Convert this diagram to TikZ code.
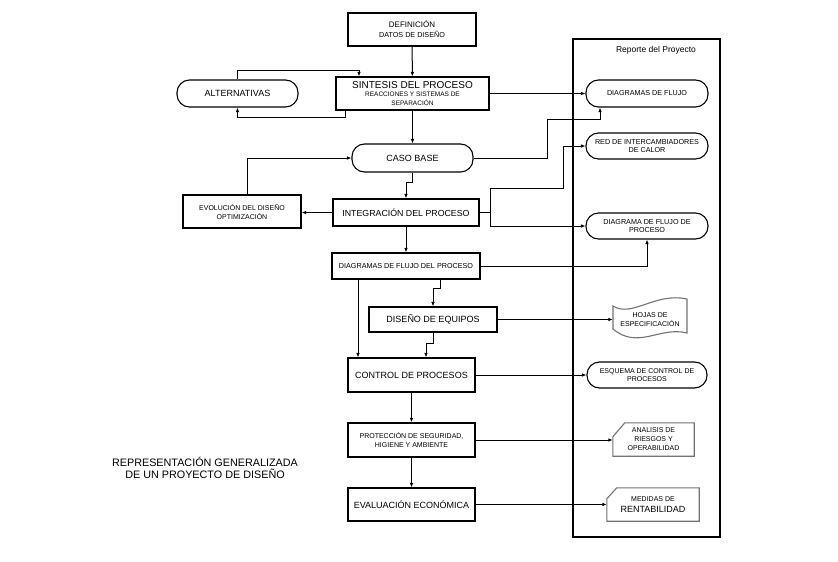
\documentclass[tikz,border=0pt]{standalone}
\usepackage{fontspec}
\setmainfont{Liberation Sans}
\usetikzlibrary{arrows.meta,calc}
\newcommand{\fsz}[2]{\fontsize{#1}{#2}\selectfont}
\begin{document}
\begin{tikzpicture}[x=1pt,y=-1pt,
  conn/.style={line width=1pt,-{Latex[length=4.5pt,width=3.6pt]}},
  box/.style={draw,line width=1.2pt,align=center,inner sep=1pt},
  pill/.style={draw,line width=1.1pt,rounded corners=12.5pt,align=center,inner sep=1pt},
  txt/.style={align=center,inner sep=0pt},
  outl/.style={draw=black!55,line width=1.1pt}]
\useasboundingbox[fill=white] (0,0) rectangle (838,562);

% main column
\node[box,minimum width=128pt,minimum height=33pt,font=\fsz{7.2}{10}] (def) at (412,29.5)
  {{\fsz{8}{10}DEFINICIÓN}\\ DATOS DE DISEÑO};
\node[box,minimum width=153pt,minimum height=33pt,font=\fsz{6.5}{8.5}] (sint) at (412.5,93.5)
  {{\fsz{10}{10}SINTESIS DEL PROCESO}\\ REACCIONES Y SISTEMAS DE\\ SEPARACIÓN};
\node[pill,minimum width=121pt,minimum height=27pt,font=\fsz{9}{10}] (alt) at (237.5,93.5)
  {ALTERNATIVAS};
\node[pill,minimum width=121pt,minimum height=28pt,font=\fsz{9}{10}] (caso) at (412.5,158)
  {CASO BASE};
\node[box,minimum width=118pt,minimum height=33pt,font=\fsz{7}{9}] (evol) at (242,211.5)
  {EVOLUCIÓN DEL DISEÑO\\ OPTIMIZACIÓN};
\node[box,minimum width=146pt,minimum height=27pt,font=\fsz{8.8}{10}] (integ) at (406,212.5)
  {INTEGRACIÓN DEL PROCESO};
\node[box,minimum width=148pt,minimum height=26pt,font=\fsz{7.2}{9}] (dfp) at (406,266)
  {DIAGRAMAS DE FLUJO DEL PROCESO};
\node[box,minimum width=128pt,minimum height=25pt,font=\fsz{9}{10}] (dise) at (433,319.5)
  {DISEÑO DE EQUIPOS};
\node[box,minimum width=127pt,minimum height=34pt,font=\fsz{9}{10}] (ctrl) at (411.5,375)
  {CONTROL DE PROCESOS};
\node[box,minimum width=127pt,minimum height=34pt,font=\fsz{7}{9}] (prot) at (411.5,440)
  {PROTECCIÓN DE SEGURIDAD,\\ HIGIENE Y AMBIENTE};
\node[box,minimum width=127pt,minimum height=33pt,font=\fsz{9}{10}] (eval) at (411.5,504.5)
  {EVALUACIÓN ECONÓMICA};

% title
\node[txt,font=\fsz{10.8}{12}] (title) at (205,467.5)
  {REPRESENTACIÓN GENERALIZADA\\ DE UN PROYECTO DE DISEÑO};

% report frame
\node[draw,line width=1.1pt,minimum width=147pt,minimum height=498pt,inner sep=0pt] (frame) at (646.5,288) {};
\node[txt,font=\fsz{8.5}{10}] (rep) at (656,50) {Reporte del Proyecto};

\node[pill,minimum width=122pt,minimum height=27pt,font=\fsz{7.2}{9}] (r1) at (647,93.5)
  {DIAGRAMAS DE FLUJO};
\node[pill,minimum width=122pt,minimum height=26pt,font=\fsz{7.2}{8.5}] (r2) at (647,146)
  {RED DE INTERCAMBIADORES\\ DE CALOR};
\node[pill,minimum width=122pt,minimum height=26pt,font=\fsz{7.2}{8.5}] (r3) at (647,226)
  {DIAGRAMA DE FLUJO DE\\ PROCESO};
\node[txt,minimum width=74pt,minimum height=32pt,font=\fsz{7}{9}] (r4) at (650,320)
  {HOJAS DE\\ ESPECIFICACIÓN};
\draw[outl] (613,306) .. controls (632,318) and (655,292) .. (687,299)
  -- (687,333) .. controls (660,326) and (638,350) .. (613,329) -- cycle;
\node[pill,minimum width=120pt,minimum height=26pt,font=\fsz{7}{8.5}] (r5) at (647,375)
  {ESQUEMA DE CONTROL DE\\ PROCESOS};
\node[txt,minimum width=81pt,minimum height=33pt,font=\fsz{7}{9}] (r6) at (653.5,439.5)
  {ANALISIS DE\\ RIESGOS Y\\ OPERABILIDAD};
\draw[outl] ($(r6.north west)+(0,14)$) -- ($(r6.north west)+(12,0)$)
  -- (r6.north east) -- (r6.south east) -- (r6.south west) -- cycle;
\node[txt,minimum width=92pt,minimum height=33pt,font=\fsz{7}{11}] (r7) at (653,504.5)
  {MEDIDAS DE\\ {\fsz{9}{11}RENTABILIDAD}};
\draw[outl] ($(r7.north west)+(0,11)$) -- ($(r7.north west)+(10,0)$)
  -- (r7.north east) -- (r7.south east) -- (r7.south west) -- cycle;

% helper coordinates
\coordinate (a1) at (359,70);
\coordinate (b1) at (345,117);
\coordinate (c1) at (490,188);
\coordinate (c2) at (563,146);
\coordinate (d1) at (547,119);
\coordinate (d2) at (600,119);

% connectors
\draw[conn] (def) -- (sint);
\draw[conn] (alt.north) |- (a1) -- (a1 |- sint.north);
\draw[conn] (b1 |- sint.south) -- (b1) -| (alt.south);
\draw[conn] (sint) -- (caso);
\draw[conn] ([xshift=5pt]evol.north) |- (caso.west);
\draw[conn] (caso.south) -- ++(0,10) -| (integ.north);
\draw[conn] (integ.west) -- (integ.west -| evol.east);
\draw[conn] (integ) -- (dfp);
\draw[conn] (integ.east) -| (c1) -| (c2) -- (r2.west);
\draw[conn] (integ.east -| c1) |- (r3.west);
\draw[conn] (sint.east) -- (sint.east -| r1.west);
\draw[conn] (caso.east) -| (d1) -- (d2) -- (d2 |- r1.south);
\draw[conn] (dfp.east) -| (r3.south);
\draw[conn] ([xshift=34pt]dfp.south) -- ++(0,9) -| (dise.north);
\draw[conn] ([xshift=-48pt]dfp.south) -- ([xshift=-48pt]dfp.south |- ctrl.north);
\draw[conn] (dise.south) -- ++(0,11) -| ([xshift=14.5pt]ctrl.north);
\draw[conn] (dise.east) -- (dise.east -| r4.west);
\draw[conn] (ctrl.east) -- (ctrl.east -| r5.west);
\draw[conn] (ctrl) -- (prot);
\draw[conn] (prot.east) -- (prot.east -| r6.west);
\draw[conn] (prot) -- (eval);
\draw[conn] (eval.east) -- (eval.east -| r7.west);
\end{tikzpicture}
\end{document}
